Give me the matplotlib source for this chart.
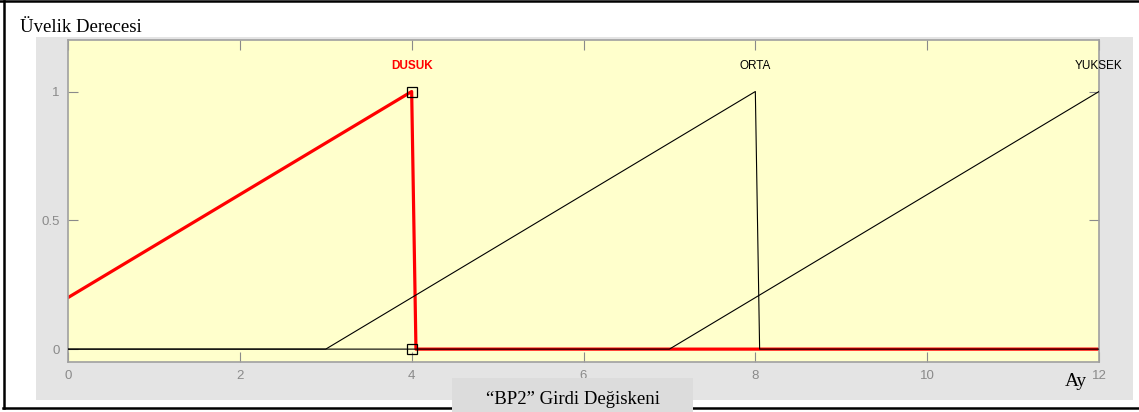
"""Fuzzy membership functions of the BP2 input variable (MATLAB FIS editor look)."""

import matplotlib

matplotlib.use("Agg")
import matplotlib.pyplot as plt  # noqa: E402
from matplotlib.patches import Rectangle  # noqa: E402

W, H = 1139, 412

# membership functions (x in months, y membership degree)
mf_names = ["DUSUK", "ORTA", "YUKSEK"]
dusuk_x = [0, 4, 4.05, 12]
dusuk_y = [0.2, 1, 0, 0]
orta_x = [0, 3, 8, 8.05, 12]
orta_y = [0, 0, 1, 0, 0]
yuksek_x = [0, 7, 12]
yuksek_y = [0, 0, 1]
peak_x = [4, 8, 12]
selected_pts_x = [4, 4]
selected_pts_y = [1, 0]

x_ticks = [0, 2, 4, 6, 8, 10, 12]
y_ticks = [0, 0.5, 1]
y_tick_labels = ["0", "0.5", "1"]

YELLOW = "#ffffcc"
PANEL = "#e4e4e4"
EDGE = "#a0a0a0"
TICKC = "#8a8a8a"


def px_box(x0, y0, x1, y1):
    """Pixel box (top-left origin) -> figure fraction [l, b, w, h]."""
    return [x0 / W, 1 - y1 / H, (x1 - x0) / W, (y1 - y0) / H]


fig = plt.figure(figsize=(W / 100, H / 100), dpi=100)
fig.patch.set_facecolor("white")

# grey panel behind the axes
l, b, w, h = px_box(36, 37, 1133, 400)
fig.patches.append(Rectangle((l, b), w, h, transform=fig.transFigure,
                             facecolor=PANEL, edgecolor="none", zorder=-1))

ax = fig.add_axes(px_box(68, 40, 1099, 362))
ax.set_zorder(1)
ax.set_facecolor(YELLOW)
ax.set_xlim(0, 12)
ax.set_ylim(-0.05, 1.2)

ax.plot(dusuk_x, dusuk_y, color="red", lw=2.3, zorder=2)
ax.plot(orta_x, orta_y, color="black", lw=0.8, zorder=3)
ax.plot(yuksek_x, yuksek_y, color="black", lw=0.8, zorder=3)
ax.plot(selected_pts_x, selected_pts_y, ls="none", marker="s", ms=7,
        mfc="none", mec="black", mew=0.9, zorder=4, clip_on=False)

for i, (name, px) in enumerate(zip(mf_names, peak_x)):
    ax.text(px, 1.1, name, ha="center", va="center", fontsize=8.5,
            family="Liberation Sans",
            color="red" if i == 0 else "black",
            fontweight="bold" if i == 0 else "normal")

ax.set_xticks(x_ticks)
ax.set_yticks(y_ticks)
ax.set_yticklabels(y_tick_labels)
ax.tick_params(direction="in", length=7, width=0.8, color=TICKC,
               labelcolor=TICKC, labelsize=9.5, top=True, right=True, pad=6)
for lab in ax.get_xticklabels() + ax.get_yticklabels():
    lab.set_family("Liberation Sans")
for sp in ax.spines.values():
    sp.set_color(EDGE)
    sp.set_linewidth(1.2)

# outer frame
fig.add_artist(plt.Line2D([4 / W, 4 / W], [1 - 408 / H, 1 - 1 / H],
                          transform=fig.transFigure, color="black", lw=1.8))
fig.add_artist(plt.Line2D([3 / W, 1139 / W], [1 - 408 / H, 1 - 408 / H],
                          transform=fig.transFigure, color="black", lw=1.8))
fig.add_artist(plt.Line2D([0, 1], [1 - 1 / H, 1 - 1 / H],
                          transform=fig.transFigure, color="black", lw=1.8))

# caption box
cap = fig.add_axes(px_box(452, 378, 693, 412))
cap.set_zorder(5)
cap.set_facecolor("#dcdcdc")
cap.set_xticks([])
cap.set_yticks([])
for sp in cap.spines.values():
    sp.set_visible(False)
cap.text(0.5, 0.38, "\u201cBP2\u201d Girdi De\u011fiskeni", ha="center",
         va="center", fontsize=13.5, family="Liberation Serif",
         transform=cap.transAxes)

fig.text(20 / W, 1 - 28 / H, "\u00dcvelik Derecesi", ha="left", va="center",
         fontsize=13.5, family="Liberation Serif")
t = fig.text(1076 / W, 1 - 382 / H, "Ay", ha="center", va="center",
             fontsize=14, family="Liberation Serif")
t.set_zorder(10)

fig.savefig("out.png", dpi=100)
